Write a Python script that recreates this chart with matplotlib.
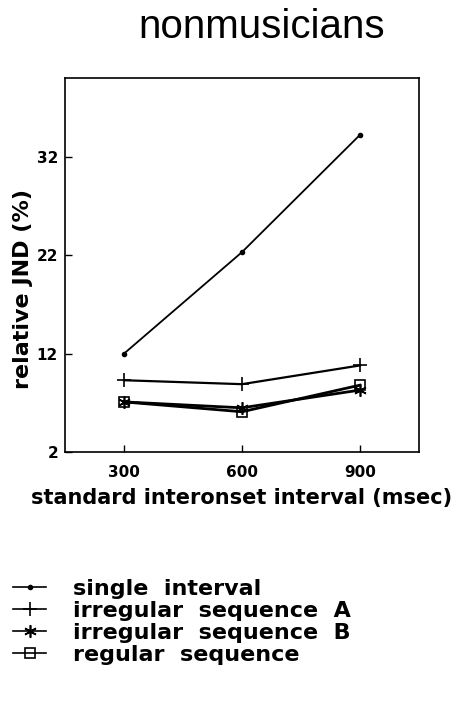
import matplotlib
matplotlib.use("Agg")
import matplotlib.pyplot as plt
from matplotlib.lines import Line2D

plt.rcParams['font.family'] = ['DejaVu Sans']

# data
intervals = [300, 600, 900]
single_interval = [12.0, 22.3, 34.2]
irregular_a = [9.3, 8.9, 10.8]
irregular_b = [7.1, 6.5, 8.3]
regular_seq = [7.1, 6.1, 8.8]
y_ticks = [2, 12, 22, 32]
series_labels = ["single  interval", "irregular  sequence  A",
                 "irregular  sequence  B", "regular  sequence"]

fig = plt.figure(figsize=(4.59, 7.01), dpi=100)
ax = fig.add_axes([0.1416, 0.355, 0.771, 0.534])

styles = [
    dict(marker='o', markersize=3),
    dict(marker='+', markersize=10, markeredgewidth=1.2),
    dict(marker=(6, 2, 0), markersize=9, markeredgewidth=1.2),
    dict(marker='s', markersize=7, fillstyle='none', markeredgewidth=1.2),
]
widths = [1.3, 1.6, 2.0, 2.0]
for vals, st, lw in zip([single_interval, irregular_a, irregular_b, regular_seq], styles, widths):
    ax.plot(intervals, vals, color='black', linewidth=lw, **st)

ax.set_xlim(150, 1050)
ax.set_ylim(2, 40)
ax.set_xticks(intervals)
ax.set_yticks(y_ticks)
ax.tick_params(direction='in', length=5, width=1, labelsize=11, pad=5)
ax.tick_params(axis='x', pad=9)
for lab in ax.get_xticklabels() + ax.get_yticklabels():
    lab.set_fontweight('bold')
for s in ax.spines.values():
    s.set_linewidth(1.2)

ax.set_ylabel("relative JND (%)", fontsize=16, fontweight='bold')
ax.yaxis.set_label_coords(-0.09, 0.435)
ax.set_xlabel("standard interonset interval (msec)", fontsize=15, fontweight='bold', labelpad=6)
fig.text(0.57, 0.962, "nonmusicians", ha='center', va='center', fontsize=29,
         family='Liberation Sans')

handles = [Line2D([], [], color='black', linewidth=1.2, **st) for st in styles]
fig.legend(handles, series_labels, loc='upper left', bbox_to_anchor=(0.009, 0.187),
           frameon=False, prop={'size': 16, 'weight': 'bold'}, handlelength=1.5,
           handletextpad=1.2, labelspacing=0.09, borderaxespad=0)

fig.savefig("out.png", dpi=100)
